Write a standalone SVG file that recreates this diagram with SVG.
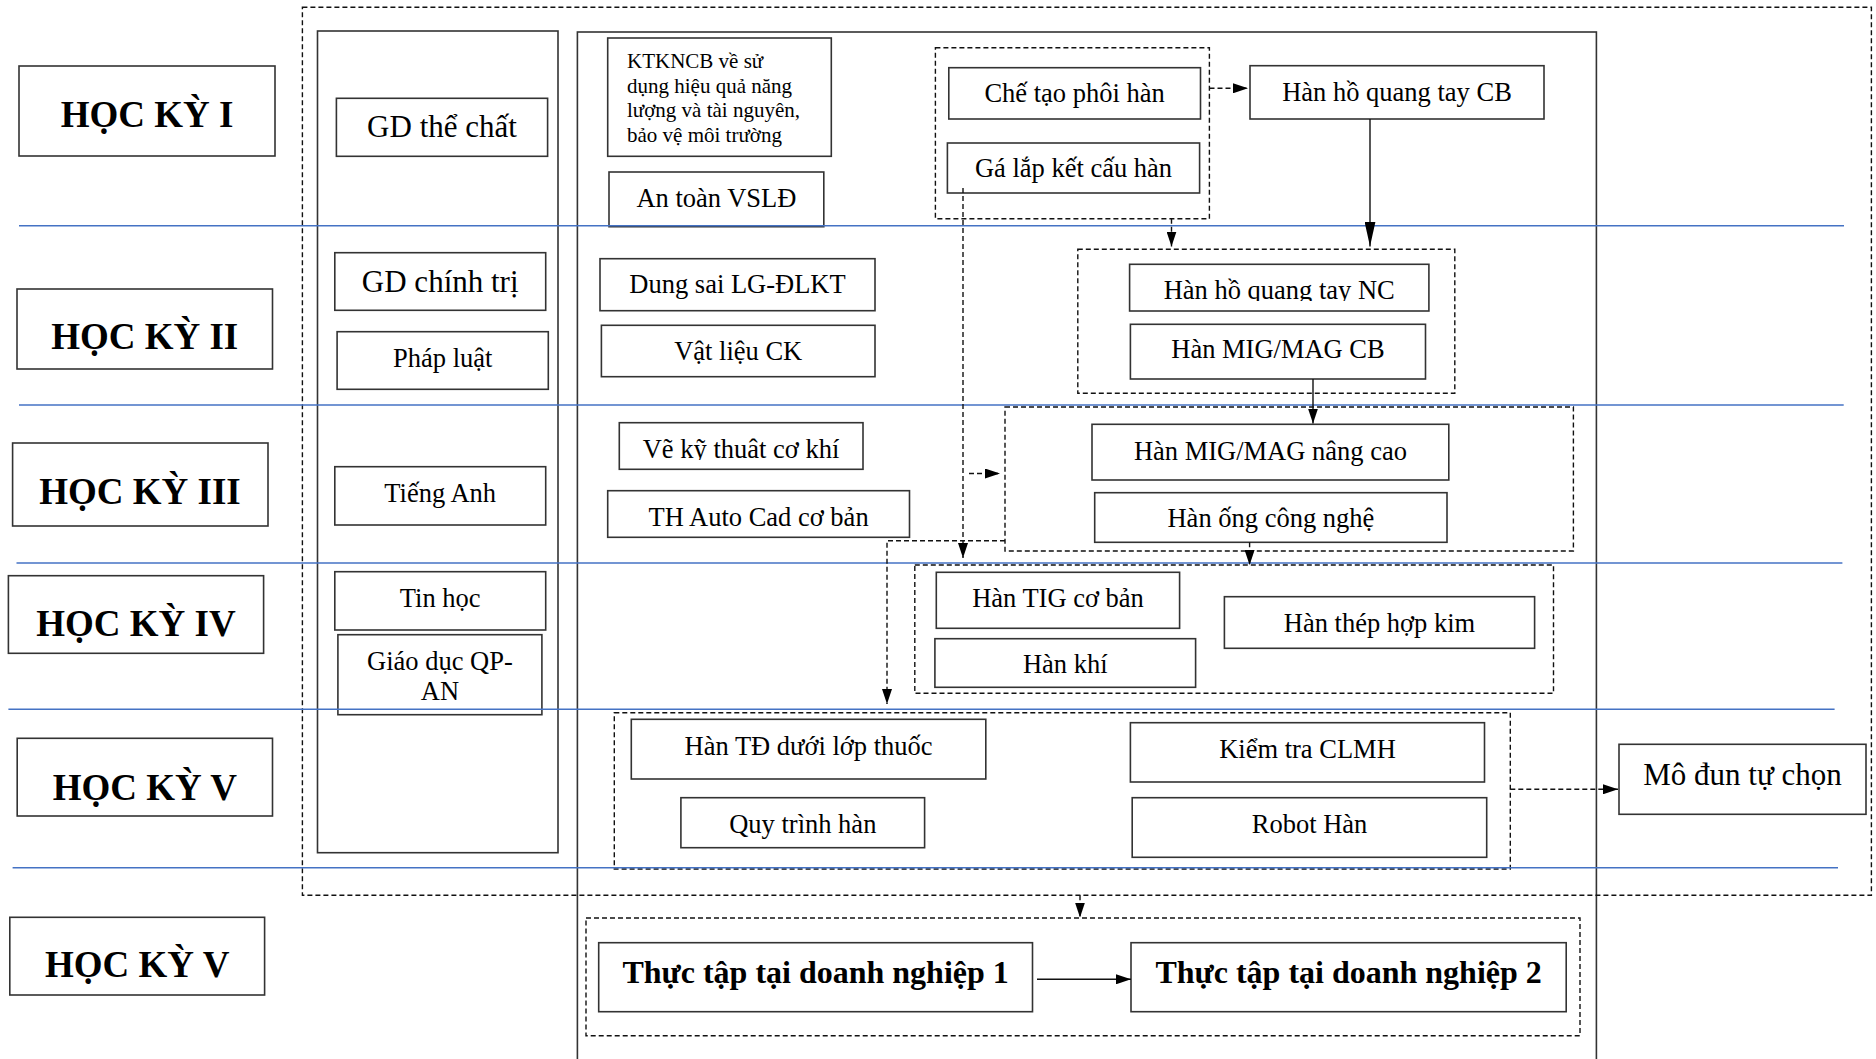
<svg xmlns="http://www.w3.org/2000/svg" width="1876" height="1059" viewBox="0 0 1876 1059">
<style>
.box{fill:#fff;stroke:#333;stroke-width:1.6}
.frame{fill:none;stroke:#333;stroke-width:1.6}
.grp{fill:none;stroke:#111;stroke-width:1.4;stroke-dasharray:5 3}
.blue{stroke:#4472C4;stroke-width:1.6;fill:none}
.t{font-family:"Liberation Serif","Times New Roman",serif;font-size:26.5px;text-anchor:middle;fill:#000}
.s{font-size:21px;text-anchor:start}
.m{font-size:31px}
.hk{font-weight:bold;font-size:37px}
.b{font-weight:bold;font-size:32px}
.dl{fill:none;stroke:#111;stroke-width:1.4;stroke-dasharray:5 3}
.sl{fill:none;stroke:#111;stroke-width:1.4}
</style>
<defs>
<marker id="ah" markerUnits="userSpaceOnUse" markerWidth="15" markerHeight="10" refX="15" refY="5" orient="auto"><path d="M0,0 L15,5 L0,10 z" fill="#000"/></marker>
<marker id="ahl" markerUnits="userSpaceOnUse" markerWidth="25" markerHeight="11" refX="25" refY="5.5" orient="auto"><path d="M0,0 L25,5.5 L0,11 z" fill="#000"/></marker>
<clipPath id="cNC"><rect x="1120" y="255" width="320" height="46"/></clipPath>
<clipPath id="cVe"><rect x="610" y="415" width="260" height="45"/></clipPath>
</defs>
<rect width="1876" height="1059" fill="#fff"/>

<!-- frames -->
<g id="frames">
<rect class="frame" x="577.4" y="32" width="1019" height="1040"/>
<rect class="frame" x="317.5" y="31" width="240.5" height="821.7"/>
<rect class="grp" x="302.4" y="7.3" width="1569" height="888"/>
<rect class="grp" x="935.4" y="47.7" width="274" height="171"/>
<rect class="grp" x="1077.8" y="249.3" width="377" height="144"/>
<rect class="grp" x="1005" y="407" width="568.4" height="144"/>
<rect class="grp" x="914.8" y="565" width="638.7" height="128.3"/>
<rect class="grp" x="614.3" y="712.7" width="896" height="156.3"/>
<rect class="grp" x="586" y="918" width="994" height="117.7"/>
</g>

<!-- semester labels -->
<g id="hk1"><rect class="box" x="19" y="66" width="256" height="90"/><text class="t hk" x="147" y="126.7">HỌC KỲ I</text></g>
<g id="hk2"><rect class="box" x="17" y="289" width="255.5" height="80"/><text class="t hk" x="144.7" y="349.3">HỌC KỲ II</text></g>
<g id="hk3"><rect class="box" x="12.6" y="443" width="255.4" height="83"/><text class="t hk" x="140" y="504.3">HỌC KỲ III</text></g>
<g id="hk4"><rect class="box" x="8.4" y="575.7" width="255.2" height="77.6"/><text class="t hk" x="136" y="636">HỌC KỲ IV</text></g>
<g id="hk5a"><rect class="box" x="17.2" y="738.3" width="255.3" height="77.7"/><text class="t hk" x="144.9" y="800">HỌC KỲ V</text></g>
<g id="hk5b"><rect class="box" x="9.8" y="917.3" width="254.8" height="77.7"/><text class="t hk" x="137.2" y="976.7">HỌC KỲ V</text></g>

<!-- general subjects -->
<g id="gdtc"><rect class="box" x="336.4" y="98.3" width="211.2" height="58"/><text class="t m" x="442" y="137.3">GD thể chất</text></g>
<g id="gdct"><rect class="box" x="334.8" y="252.7" width="210.9" height="57.6"/><text class="t m" x="440.2" y="292.3">GD chính trị</text></g>
<g id="pl"><rect class="box" x="337.1" y="331.7" width="211.2" height="57.6"/><text class="t" x="442.7" y="366.7">Pháp luật</text></g>
<g id="ta"><rect class="box" x="334.8" y="466.7" width="210.9" height="58.3"/><text class="t" x="440.2" y="501.7">Tiếng Anh</text></g>
<g id="th"><rect class="box" x="334.8" y="571.7" width="210.9" height="58.3"/><text class="t" x="440.2" y="606.7">Tin học</text></g>
<g id="qp"><rect class="box" x="337.9" y="634.7" width="204" height="80"/><text class="t" x="439.9" y="670">Giáo dục QP-</text><text class="t" x="439.9" y="700">AN</text></g>

<!-- basic modules -->
<g id="ktkn"><rect class="box" x="607.7" y="38" width="223.6" height="118.3"/>
<text class="t s" x="627" y="68">KTKNCB về sử</text>
<text class="t s" x="627" y="92.5">dụng hiệu quả năng</text>
<text class="t s" x="627" y="117">lượng và tài nguyên,</text>
<text class="t s" x="627" y="141.5">bảo vệ môi trường</text></g>
<g id="atvs"><rect class="box" x="609" y="172" width="214.8" height="54.7"/><text class="t" x="716.4" y="206.7">An toàn VSLĐ</text></g>
<g id="dungsai"><rect class="box" x="600" y="258.7" width="275" height="52"/><text class="t" x="737.5" y="293.3">Dung sai LG-ĐLKT</text></g>
<g id="vlck"><rect class="box" x="601.4" y="325.3" width="273.6" height="51.4"/><text class="t" x="738.2" y="360">Vật liệu CK</text></g>
<g id="vkt"><rect class="box" x="619.3" y="422.7" width="243.7" height="46.6"/><text class="t" x="741" y="458.3" clip-path="url(#cVe)">Vẽ kỹ thuât cơ khí</text></g>
<g id="autocad"><rect class="box" x="607.7" y="490.7" width="301.8" height="46.6"/><text class="t" x="758.6" y="526">TH Auto Cad cơ bản</text></g>

<!-- welding modules -->
<g id="ctph"><rect class="box" x="948.8" y="67.7" width="251.7" height="51.3"/><text class="t" x="1074.6" y="102.3">Chế tạo phôi hàn</text></g>
<g id="glkc"><rect class="box" x="947.4" y="143" width="252.2" height="50"/><text class="t" x="1073.5" y="177.3">Gá lắp kết cấu hàn</text></g>
<g id="hqtcb"><rect class="box" x="1250" y="65.7" width="294" height="53.3"/><text class="t" x="1397" y="100.7">Hàn hồ quang tay CB</text></g>
<g id="hqtnc"><rect class="box" x="1129.6" y="264.3" width="299.3" height="46.7"/><text class="t" x="1279.2" y="299" clip-path="url(#cNC)">Hàn hồ quang tay NC</text></g>
<g id="migcb"><rect class="box" x="1130.4" y="324.3" width="295.1" height="54.7"/><text class="t" x="1278" y="358.3">Hàn MIG/MAG CB</text></g>
<g id="mignc"><rect class="box" x="1092" y="424.3" width="356.8" height="55.7"/><text class="t" x="1270.4" y="460">Hàn MIG/MAG nâng cao</text></g>
<g id="ong"><rect class="box" x="1094.7" y="492.7" width="352.3" height="49.6"/><text class="t" x="1270.9" y="526.7">Hàn ống công nghệ</text></g>
<g id="tig"><rect class="box" x="936.3" y="572.3" width="243.3" height="56"/><text class="t" x="1058" y="606.7">Hàn TIG cơ bản</text></g>
<g id="khi"><rect class="box" x="934.9" y="638.7" width="260.7" height="48.6"/><text class="t" x="1065.3" y="673.3">Hàn khí</text></g>
<g id="thk"><rect class="box" x="1224.4" y="596.7" width="310.2" height="51.6"/><text class="t" x="1379.5" y="631.7">Hàn thép hợp kim</text></g>
<g id="td"><rect class="box" x="631.3" y="719.3" width="354.5" height="59.7"/><text class="t" x="808.6" y="755">Hàn TĐ dưới lớp thuốc</text></g>
<g id="qth"><rect class="box" x="680.9" y="797.7" width="243.7" height="50"/><text class="t" x="802.8" y="833.3">Quy trình hàn</text></g>
<g id="kt"><rect class="box" x="1130.4" y="722.7" width="354.1" height="59.3"/><text class="t" x="1307.5" y="758.3">Kiểm tra CLMH</text></g>
<g id="robot"><rect class="box" x="1132.2" y="797.7" width="354.5" height="59.6"/><text class="t" x="1309.5" y="833.3">Robot Hàn</text></g>
<g id="modun"><rect class="box" x="1619" y="744.3" width="247" height="70"/><text class="t m" x="1742.5" y="785">Mô đun tự chọn</text></g>
<g id="tt1"><rect class="box" x="598.7" y="942.7" width="433.8" height="69"/><text class="t b" x="815.6" y="982.7">Thực tập tại doanh nghiệp 1</text></g>
<g id="tt2"><rect class="box" x="1131" y="942.7" width="435.2" height="69"/><text class="t b" x="1348.6" y="982.7">Thực tập tại doanh nghiệp 2</text></g>

<!-- semester separator lines -->
<g id="separators">
<line class="blue" x1="19" y1="225.7" x2="1844" y2="225.7"/>
<line class="blue" x1="19" y1="405" x2="1843.7" y2="405"/>
<line class="blue" x1="16.5" y1="563" x2="1842.4" y2="563"/>
<line class="blue" x1="8.4" y1="709.3" x2="1834.6" y2="709.3"/>
<line class="blue" x1="12.6" y1="867.7" x2="1838" y2="867.7"/>
</g>

<!-- connectors -->
<g id="connectors">
<path class="dl" d="M1209.5,88.3 L1248,88.3" marker-end="url(#ah)"/>
<path class="dl" d="M963,188 L963,558" marker-end="url(#ah)"/>
<path class="dl" d="M1171.5,218.7 L1171.5,246.5" marker-end="url(#ah)"/>
<path class="sl" d="M1370,119 L1370,246.5" marker-end="url(#ahl)"/>
<path class="sl" d="M1313,379 L1313,423.5" marker-end="url(#ah)"/>
<path class="dl" d="M969,473.5 L1000,473.5" marker-end="url(#ah)"/>
<path class="dl" d="M1005,540.8 L887,540.8 L887,704" marker-end="url(#ah)"/>
<path class="dl" d="M1249.6,542.3 L1249.6,565" marker-end="url(#ah)"/>
<path class="dl" d="M1510.3,789.3 L1618,789.3" marker-end="url(#ah)"/>
<path class="dl" d="M1080,895.3 L1080,917.5" marker-end="url(#ah)"/>
<path class="sl" d="M1037,979.3 L1131,979.3" marker-end="url(#ah)"/>
</g>
</svg>
